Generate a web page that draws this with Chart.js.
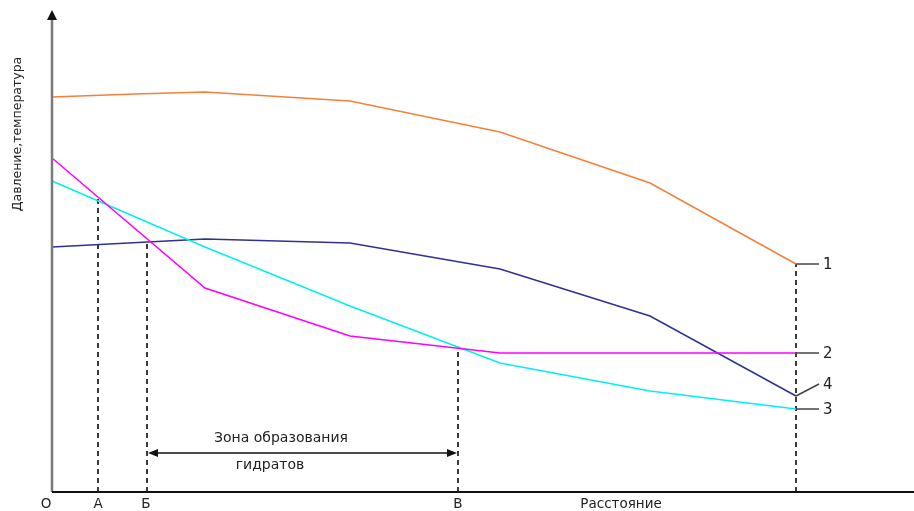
<!DOCTYPE html>
<html>
<head>
<meta charset="utf-8">
<script src="https://cdn.jsdelivr.net/npm/chart.js@4.4.0/dist/chart.umd.min.js"></script>
<style>
  html, body { margin: 0; padding: 0; background: #fff; }
  #wrap { width: 914px; height: 511px; }
</style>
</head>
<body>
<div id="wrap"><canvas id="chart" width="914" height="511"></canvas></div>
<script>
// Расстояние (условные единицы) и значения кривых
const distOrange = [0, 8.3, 15.3, 29.8, 44.8, 59.8, 74.4];
const valOrange = [39.5, 39.8, 40.0, 39.1, 36.0, 30.9, 22.8]; // 1
const distMagenta = [0, 15.3, 29.8, 44.8, 74.4];
const valMagenta = [33.4, 20.4, 15.6, 13.9, 13.9]; // 2
const distCyan = [0, 15.3, 29.8, 44.8, 59.8, 74.4];
const valCyan = [31.1, 24.5, 18.6, 12.9, 10.1, 8.3]; // 3
const distNavy = [0, 15.3, 29.8, 44.8, 59.8, 74.4];
const valNavy = [24.5, 25.3, 24.9, 22.3, 17.6, 9.6]; // 4

// Пунктирные вертикали (А, Б, В, конец)
const markX = [4.6, 9.5, 40.6, 74.4];
const markTop = [29.4, 25.2, 14.4, 22.8];

// Подписи оси X
const tickPos = [-0.6, 4.6, 9.4, 40.6, 56.9];
const tickLabels = ["О", "А", "Б", "В", "Расстояние"];

const curveNames = ["1", "2", "3", "4"];

const FONT = "'DejaVu Sans', Verdana, sans-serif";

function pts(xs, ys) {
  return xs.map((x, i) => ({ x: x, y: ys[i] }));
}

const datasets = [
  { data: pts(distOrange, valOrange), borderColor: "#f5803a" },
  { data: pts(distMagenta, valMagenta), borderColor: "#ff00ff" },
  { data: pts(distCyan, valCyan), borderColor: "#00f0f0" },
  { data: pts(distNavy, valNavy), borderColor: "#2e3192" },
].map((d) => Object.assign(d, { borderWidth: 1.5, pointRadius: 0, tension: 0, fill: false }));

markX.forEach((x, i) => {
  datasets.push({
    data: [{ x: x, y: 0 }, { x: x, y: markTop[i] }],
    borderColor: "#3a3a3a",
    borderWidth: 2,
    borderDash: [5, 4],
    pointRadius: 0,
    fill: false,
  });
});

function arrowHead(ctx, x, y, dir, len, half) {
  ctx.beginPath();
  if (dir === "up") {
    ctx.moveTo(x, y);
    ctx.lineTo(x - half, y + len);
    ctx.lineTo(x + half, y + len);
  } else if (dir === "left") {
    ctx.moveTo(x, y);
    ctx.lineTo(x + len, y - half);
    ctx.lineTo(x + len, y + half);
  } else {
    ctx.moveTo(x, y);
    ctx.lineTo(x - len, y - half);
    ctx.lineTo(x - len, y + half);
  }
  ctx.closePath();
  ctx.fill();
}

// Оси со стрелками, подписи кривых и зона гидратов
const decor = {
  id: "decor",
  afterDraw(chart) {
    const ctx = chart.ctx;
    const xs = chart.scales.x;
    const ys = chart.scales.y;
    const area = chart.chartArea;
    const x0 = xs.getPixelForValue(0);
    ctx.save();

    // ось Y
    ctx.strokeStyle = "#7a7a7a";
    ctx.fillStyle = "#111";
    ctx.lineWidth = 2.5;
    ctx.beginPath();
    ctx.moveTo(x0, area.bottom);
    ctx.lineTo(x0, 18);
    ctx.stroke();
    arrowHead(ctx, x0, 10, "up", 10, 5);

    // ось X
    ctx.strokeStyle = "#111";
    ctx.lineWidth = 2;
    ctx.beginPath();
    ctx.moveTo(x0, area.bottom);
    ctx.lineTo(chart.width, area.bottom);
    ctx.stroke();

    // заголовок оси Y
    ctx.save();
    ctx.translate(18, 134);
    ctx.rotate(-Math.PI / 2);
    ctx.font = "12.5px " + FONT;
    ctx.fillStyle = "#222";
    ctx.textAlign = "center";
    ctx.textBaseline = "middle";
    ctx.fillText("Давление,температура", 0, 0);
    ctx.restore();

    // выноски 1, 2, 4, 3
    const endX = xs.getPixelForValue(markX[3]);
    const ends = [
      [valOrange[valOrange.length - 1], 0, curveNames[0]],
      [valMagenta[valMagenta.length - 1], 0, curveNames[1]],
      [valCyan[valCyan.length - 1], 0, curveNames[2]],
      [valNavy[valNavy.length - 1], -12, curveNames[3]],
    ];
    ctx.strokeStyle = "#444";
    ctx.lineWidth = 1.5;
    ctx.font = "15px " + FONT;
    ctx.fillStyle = "#222";
    ctx.textAlign = "left";
    ctx.textBaseline = "middle";
    ends.forEach(([v, dy, name]) => {
      const py = ys.getPixelForValue(v);
      ctx.beginPath();
      ctx.moveTo(endX, py);
      ctx.lineTo(endX + 23, py + dy);
      ctx.stroke();
      ctx.fillText(name, endX + 27, py + dy + 1);
    });

    // зона образования гидратов
    const x1 = xs.getPixelForValue(markX[1]);
    const x2 = xs.getPixelForValue(markX[2]);
    const ay = ys.getPixelForValue(3.9);
    ctx.strokeStyle = "#111";
    ctx.fillStyle = "#111";
    ctx.lineWidth = 1.6;
    ctx.beginPath();
    ctx.moveTo(x1 + 6, ay);
    ctx.lineTo(x2 - 6, ay);
    ctx.stroke();
    arrowHead(ctx, x1 + 1, ay, "left", 10, 4);
    arrowHead(ctx, x2 - 1, ay, "right", 10, 4);

    ctx.font = "14px " + FONT;
    ctx.fillStyle = "#222";
    ctx.textAlign = "center";
    ctx.fillText("Зона образования", 281, 438);
    ctx.fillText("гидратов", 270, 465);

    ctx.restore();
  },
};

new Chart(document.getElementById("chart"), {
  type: "line",
  data: { datasets: datasets },
  options: {
    responsive: false,
    animation: false,
    layout: { padding: { left: 46, right: 1, top: 12, bottom: 0 } },
    plugins: { legend: { display: false }, tooltip: { enabled: false } },
    scales: {
      x: {
        type: "linear",
        min: -0.6,
        max: 86.1,
        grid: { display: false, drawTicks: false },
        border: { display: false },
        afterBuildTicks: (s) => {
          s.ticks = tickPos.map((v) => ({ value: v }));
        },
        afterFit: (s) => {
          s.height = 19;
        },
        ticks: {
          autoSkip: false,
          maxRotation: 0,
          padding: 4,
          color: "#222",
          font: { family: FONT, size: 13.5 },
          callback: (v) => tickLabels[tickPos.indexOf(v)],
        },
      },
      y: {
        display: false,
        min: 0,
        max: 48,
      },
    },
  },
  plugins: [decor],
});
</script>
</body>
</html>
